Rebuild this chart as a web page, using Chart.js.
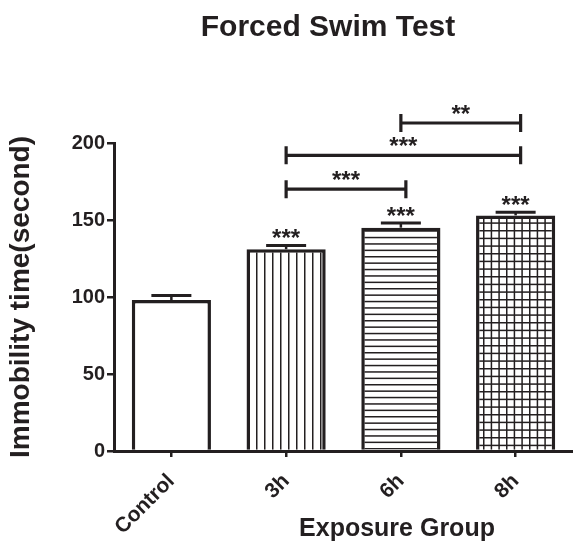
<!DOCTYPE html>
<html>
<head>
<meta charset="utf-8">
<title>Forced Swim Test</title>
<script src="https://cdn.jsdelivr.net/npm/chart.js@4.4.1/dist/chart.umd.min.js"></script>
<style>
    html, body { margin: 0; padding: 0; background: #fff; }
</style>
</head>
<body>
<canvas id="swimChart" width="573" height="543"></canvas>
<script>
// data
const groups = ['Control', '3h', '6h', '8h'];
const immobility = [98, 131, 145, 153];
const errors = [3, 2.5, 3, 2];
const yTicks = [0, 50, 100, 150, 200];
const barStars = ['', '***', '***', '***'];

// pairwise comparison brackets (group index from/to, height in seconds)
const compFrom = [1, 1, 2];
const compTo = [2, 3, 3];
const compLevel = [170, 192, 213];
const compStars = ['***', '***', '**'];

const ink = '#231f20';
const fontFamily = "'Liberation Sans', Arial, sans-serif";

function makePattern(w, h, draw) {
    const c = document.createElement('canvas');
    c.width = w;
    c.height = h;
    const g = c.getContext('2d');
    g.fillStyle = '#fff';
    g.fillRect(0, 0, w, h);
    g.fillStyle = ink;
    draw(g);
    return document.getElementById('swimChart').getContext('2d').createPattern(c, 'repeat');
}

const vLines = makePattern(8, 8, g => { g.fillRect(0, 0, 1.5, 8); });
const hLines = makePattern(32, 32, g => {
    for (let i = 0; i < 5; i++) g.fillRect(0, i * 6.4, 32, 1.5);
});
const grid = makePattern(23, 23, g => {
    for (let i = 0; i < 3; i++) {
        g.fillRect(i * 7.667, 0, 1.5, 23);
        g.fillRect(0, i * 7.667, 23, 1.5);
    }
});

const annotations = {
    id: 'annotations',
    afterDatasetsDraw(chart) {
        const ctx = chart.ctx;
        const meta = chart.getDatasetMeta(0);
        const y = chart.scales.y;
        ctx.save();
        ctx.strokeStyle = ink;
        ctx.fillStyle = ink;
        ctx.lineCap = 'butt';

        // error bars (upper whisker only) + stars over bars
        meta.data.forEach((bar, i) => {
            const top = y.getPixelForValue(immobility[i]);
            const cap = y.getPixelForValue(immobility[i] + errors[i]);
            ctx.lineWidth = 2.5;
            ctx.beginPath();
            ctx.moveTo(bar.x, top);
            ctx.lineTo(bar.x, cap);
            ctx.stroke();
            ctx.lineWidth = 3;
            ctx.beginPath();
            ctx.moveTo(bar.x - 20, cap);
            ctx.lineTo(bar.x + 20, cap);
            ctx.stroke();
            if (barStars[i]) {
                ctx.font = 'bold 24px ' + fontFamily;
                ctx.textAlign = 'center';
                ctx.textBaseline = 'alphabetic';
                ctx.fillText(barStars[i], bar.x, cap + 1);
            }
        });

        // comparison brackets
        compFrom.forEach((from, k) => {
            const x1 = meta.data[from].x;
            const x2 = meta.data[compTo[k]].x + 5;
            const ly = y.getPixelForValue(compLevel[k]);
            ctx.lineWidth = 3.2;
            ctx.beginPath();
            ctx.moveTo(x1, ly);
            ctx.lineTo(x2, ly);
            ctx.moveTo(x1, ly - 9);
            ctx.lineTo(x1, ly + 9);
            ctx.moveTo(x2, ly - 9);
            ctx.lineTo(x2, ly + 9);
            ctx.stroke();
            ctx.font = 'bold 24px ' + fontFamily;
            ctx.textAlign = 'center';
            ctx.textBaseline = 'alphabetic';
            ctx.fillText(compStars[k], (x1 + x2) / 2, ly - 1);
        });
        ctx.restore();
    },
    afterDraw(chart) {
        const ctx = chart.ctx;
        ctx.save();
        ctx.fillStyle = ink;
        ctx.textAlign = 'center';
        ctx.textBaseline = 'middle';
        ctx.font = 'bold 30px ' + fontFamily;
        ctx.fillText('Forced Swim Test', 328, 28);
        ctx.font = 'bold 25px ' + fontFamily;
        ctx.fillText('Exposure Group', 397, 529);
        ctx.restore();
    }
};

new Chart(document.getElementById('swimChart'), {
    type: 'bar',
    data: {
        labels: groups,
        datasets: [{
            data: immobility,
            backgroundColor: ['#ffffff', vLines, hLines, grid],
            borderColor: ink,
            borderWidth: 3.5,
            barPercentage: 0.69,
            categoryPercentage: 1
        }]
    },
    options: {
        responsive: false,
        animation: false,
        layout: { padding: { top: 143, right: 0, bottom: 0, left: 0 } },
        plugins: {
            legend: { display: false },
            tooltip: { enabled: false }
        },
        scales: {
            x: {
                grid: {
                    offset: false,
                    drawOnChartArea: false,
                    tickLength: 6,
                    color: ink,
                    lineWidth: 2.5
                },
                border: { color: ink, width: 3 },
                ticks: {
                    color: ink,
                    font: { family: fontFamily, weight: 'bold', size: 21 },
                    minRotation: 45,
                    maxRotation: 45,
                    padding: 12
                },
                afterFit: function (scale) { scale.height = 92; }
            },
            y: {
                min: 0,
                max: 200,
                afterBuildTicks: function (scale) {
                    scale.ticks = yTicks.map(v => ({ value: v }));
                },
                grid: {
                    drawOnChartArea: false,
                    tickLength: 7,
                    color: ink,
                    lineWidth: 2.5
                },
                border: { color: ink, width: 3 },
                ticks: {
                    color: ink,
                    font: { family: fontFamily, weight: 'bold', size: 20 },
                    padding: 2
                },
                title: {
                    display: true,
                    text: 'Immobility time(second)',
                    color: ink,
                    font: { family: fontFamily, weight: 'bold', size: 28 },
                    padding: { top: 4, bottom: 0 }
                },
                afterFit: function (scale) { scale.width = 114; }
            }
        }
    },
    plugins: [annotations]
});
</script>
</body>
</html>
